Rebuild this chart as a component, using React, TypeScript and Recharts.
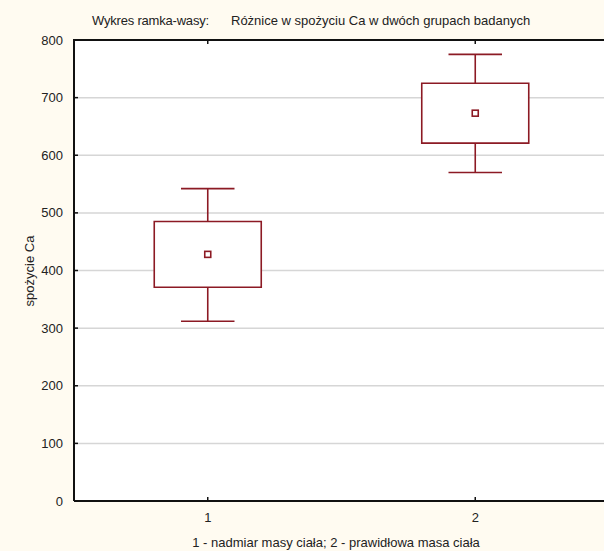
import {
  CartesianGrid,
  ComposedChart,
  ReferenceArea,
  ReferenceLine,
  Scatter,
  XAxis,
  YAxis,
} from "recharts";

// box-plot values (spożycie Ca)
const groups = [1, 2];
const whiskerLow = [312, 570];
const boxLow = [371, 621];
const means = [428, 673];
const boxHigh = [485, 725];
const whiskerHigh = [542, 775];
const yTicks = [0, 100, 200, 300, 400, 500, 600, 700, 800];
const yMax = 800;

const meanData = groups.map((g, i) => ({ x: g, y: means[i] }));

const RED = "#8c1a24";
const BOX_HALF = 0.2;
const CAP_HALF = 0.1;
const TOP_TICK = 7; // data units, ~4px
const FONT = "'Liberation Sans', Arial, sans-serif";

function MeanSquare(props: any) {
  const { cx, cy } = props;
  return (
    <rect
      x={cx - 3}
      y={cy - 3}
      width={6}
      height={6}
      fill="#fff"
      stroke={RED}
      strokeWidth={1.6}
    />
  );
}

export default function App() {
  return (
    <div
      style={{
        position: "fixed",
        left: 0,
        top: 0,
        width: 604,
        height: 551,
        overflow: "hidden",
        background: "#fffbf1",
        fontFamily: FONT,
        color: "#222",
      }}
    >
      <ComposedChart
        width={620}
        height={551}
        margin={{ top: 40, right: 11, bottom: 0, left: 0 }}
      >
        <CartesianGrid
          vertical={false}
          stroke="#d6d6d6"
          strokeWidth={1.5}
          fill="#ffffff"
          fillOpacity={1}
        />
        <XAxis
          type="number"
          dataKey="x"
          domain={[0.5, 2.5]}
          ticks={groups}
          interval={0}
          height={50}
          tickSize={-4}
          tickMargin={16}
          axisLine={{ stroke: "#111", strokeWidth: 2 }}
          tickLine={{ stroke: "#111", strokeWidth: 1.5 }}
          tick={{ fontSize: 13, fill: "#222", fontFamily: FONT }}
        />
        <YAxis
          type="number"
          domain={[0, yMax]}
          ticks={yTicks}
          interval={0}
          width={74}
          tickSize={-4}
          tickMargin={15}
          axisLine={{ stroke: "#111", strokeWidth: 2 }}
          tickLine={{ stroke: "#111", strokeWidth: 1.5 }}
          tick={{ fontSize: 13, fill: "#222", fontFamily: FONT }}
        />
        <ReferenceLine
          y={yMax}
          stroke="#111"
          strokeWidth={2}
          ifOverflow="extendDomain"
        />
        {groups.map((g) => (
          <ReferenceLine
            key={`tt${g}`}
            segment={[
              { x: g, y: yMax },
              { x: g, y: yMax - TOP_TICK },
            ]}
            stroke="#111"
            strokeWidth={1.5}
            ifOverflow="visible"
          />
        ))}
        {groups.map((g, i) => (
          <ReferenceLine
            key={`wl${g}`}
            segment={[
              { x: g, y: whiskerLow[i] },
              { x: g, y: boxLow[i] },
            ]}
            stroke={RED}
            strokeWidth={1.6}
          />
        ))}
        {groups.map((g, i) => (
          <ReferenceLine
            key={`wh${g}`}
            segment={[
              { x: g, y: boxHigh[i] },
              { x: g, y: whiskerHigh[i] },
            ]}
            stroke={RED}
            strokeWidth={1.6}
          />
        ))}
        {groups.map((g, i) => (
          <ReferenceLine
            key={`cl${g}`}
            segment={[
              { x: g - CAP_HALF, y: whiskerLow[i] },
              { x: g + CAP_HALF, y: whiskerLow[i] },
            ]}
            stroke={RED}
            strokeWidth={1.6}
          />
        ))}
        {groups.map((g, i) => (
          <ReferenceLine
            key={`ch${g}`}
            segment={[
              { x: g - CAP_HALF, y: whiskerHigh[i] },
              { x: g + CAP_HALF, y: whiskerHigh[i] },
            ]}
            stroke={RED}
            strokeWidth={1.6}
          />
        ))}
        {groups.map((g, i) => (
          <ReferenceArea
            key={`b${g}`}
            x1={g - BOX_HALF}
            x2={g + BOX_HALF}
            y1={boxLow[i]}
            y2={boxHigh[i]}
            fill="#ffffff"
            fillOpacity={1}
            stroke={RED}
            strokeWidth={1.6}
          />
        ))}
        <Scatter
          data={meanData}
          dataKey="y"
          shape={<MeanSquare />}
          isAnimationActive={false}
        />
      </ComposedChart>
      {/* top edge of the plot frame */}
      <div
        style={{
          position: "absolute",
          zIndex: 10,
          left: 73,
          top: 39,
          width: 540,
          height: 0,
          borderTop: "2px solid #111",
        }}
      />
      <div
        style={{
          position: "absolute",
          left: 92,
          top: 13,
          fontSize: 13,
          lineHeight: "15px",
          whiteSpace: "pre",
          letterSpacing: -0.2,
        }}
      >
        Wykres ramka-wasy:
      </div>
      <div
        style={{
          position: "absolute",
          left: 231,
          top: 13,
          fontSize: 13,
          lineHeight: "15px",
          whiteSpace: "pre",
        }}
      >
        Różnice w spożyciu Ca w dwóch grupach badanych
      </div>
      <div
        style={{
          position: "absolute",
          left: 29,
          top: 271,
          fontSize: 13,
          lineHeight: "15px",
          whiteSpace: "nowrap",
          transform: "translate(-50%, -50%) rotate(-90deg)",
        }}
      >
        spożycie Ca
      </div>
      <div
        style={{
          position: "absolute",
          left: 336,
          top: 535,
          fontSize: 13,
          lineHeight: "15px",
          whiteSpace: "nowrap",
          transform: "translateX(-50%)",
        }}
      >
        1 - nadmiar masy ciała; 2 - prawidłowa masa ciała
      </div>
    </div>
  );
}
